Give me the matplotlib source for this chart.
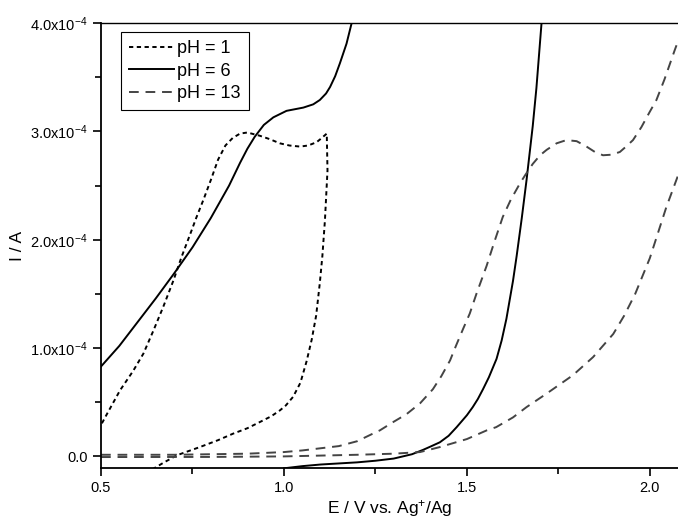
import numpy as np
import matplotlib
matplotlib.use("Agg")
import matplotlib.pyplot as plt
from matplotlib.ticker import FuncFormatter, MultipleLocator

plt.rcParams['font.family'] = ['Liberation Sans', 'DejaVu Sans']
plt.rcParams['mathtext.fontset'] = 'custom'
plt.rcParams['mathtext.rm'] = 'Liberation Sans'
plt.rcParams['mathtext.default'] = 'regular'

# current values in units of 1e-4 A
# pH = 1 (one closed loop: lower part, up the edge, back along the top)
e_ph1 = [0.64, 0.67, 0.707, 0.74, 0.77, 0.82, 0.861, 0.90, 0.934, 0.965, 0.989, 1.005,
         1.025, 1.045, 1.062, 1.076, 1.088, 1.098, 1.105, 1.112, 1.119, 1.117,
         1.10, 1.089, 1.066, 1.044, 1.015, 0.989, 0.96, 0.934, 0.9, 0.88, 0.86,
         0.84, 0.82, 0.8, 0.78, 0.76, 0.748, 0.72, 0.698, 0.67, 0.643, 0.616,
         0.588, 0.552, 0.516, 0.5]
i_ph1 = [-0.12, -0.06, 0.01, 0.05, 0.086, 0.15, 0.21, 0.26, 0.317, 0.37, 0.425, 0.47,
         0.55, 0.68, 0.88, 1.08, 1.3, 1.6, 1.85, 2.18, 2.64, 2.98,
         2.93, 2.90, 2.87, 2.86, 2.87, 2.89, 2.93, 2.96, 2.99, 2.98, 2.94,
         2.87, 2.74, 2.55, 2.37, 2.2, 2.09, 1.84, 1.625, 1.38, 1.16, 0.95,
         0.79, 0.61, 0.39, 0.29]

# pH = 6, two branches
e_ph6_a = [0.5, 0.55, 0.6, 0.65, 0.7, 0.75, 0.8, 0.85, 0.88, 0.9, 0.92, 0.945, 0.971,
           1.007, 1.053, 1.08, 1.098, 1.115, 1.126, 1.14, 1.153, 1.171, 1.185, 1.19]
i_ph6_a = [0.83, 1.02, 1.24, 1.46, 1.69, 1.93, 2.2, 2.5, 2.71, 2.84, 2.95, 3.06, 3.13,
           3.19, 3.22, 3.25, 3.29, 3.35, 3.41, 3.51, 3.63, 3.81, 4.0, 4.05]
e_ph6_b = [1.0, 1.05, 1.1, 1.15, 1.2, 1.25, 1.3, 1.35, 1.38, 1.4, 1.426, 1.45, 1.472,
           1.5, 1.516, 1.53, 1.544, 1.56, 1.581, 1.595, 1.608, 1.626, 1.636, 1.65,
           1.663, 1.68, 1.69, 1.704, 1.71]
i_ph6_b = [-0.11, -0.09, -0.075, -0.065, -0.055, -0.04, -0.02, 0.02, 0.06, 0.09, 0.13,
           0.19, 0.27, 0.38, 0.455, 0.53, 0.62, 0.73, 0.9, 1.07, 1.27, 1.62, 1.85,
           2.2, 2.55, 3.05, 3.4, 4.0, 4.1]

# pH = 13, upper and lower branch
e_ph13_up = [0.5, 0.7, 0.9, 1.0, 1.05, 1.1, 1.15, 1.2, 1.243, 1.262, 1.3, 1.335, 1.372,
             1.407, 1.43, 1.454, 1.47, 1.49, 1.508, 1.526, 1.554, 1.575, 1.598, 1.62,
             1.645, 1.66, 1.68, 1.7, 1.718, 1.745, 1.772, 1.8, 1.827, 1.85, 1.872,
             1.895, 1.918, 1.935, 1.954, 1.977, 1.998, 2.018, 2.04, 2.068, 2.08]
i_ph13_up = [0.015, 0.015, 0.025, 0.04, 0.055, 0.075, 0.095, 0.14, 0.21, 0.24, 0.32,
             0.39, 0.49, 0.62, 0.74, 0.886, 1.02, 1.18, 1.32, 1.5, 1.76, 1.98, 2.21,
             2.37, 2.52, 2.6, 2.70, 2.78, 2.83, 2.89, 2.92, 2.91, 2.86, 2.81, 2.78,
             2.785, 2.81, 2.86, 2.92, 3.04, 3.17, 3.29, 3.48, 3.75, 3.86]
e_ph13_low = [0.5, 0.8, 1.0, 1.2, 1.3, 1.372, 1.426, 1.5, 1.554, 1.58, 1.626, 1.663,
              1.718, 1.79, 1.845, 1.9, 1.93, 1.96, 2.0, 2.045, 2.08]
i_ph13_low = [-0.006, -0.005, 0.0, 0.015, 0.025, 0.04, 0.086, 0.16, 0.24, 0.27, 0.36,
              0.455, 0.58, 0.75, 0.917, 1.13, 1.3, 1.5, 1.83, 2.3, 2.62]

scale = 1e-4

fig = plt.figure(figsize=(6.78, 5.19), dpi=100)
ax = fig.add_axes([0.149, 0.0985, 0.851, 0.857])

gray = '#444444'
ax.plot(e_ph1, np.array(i_ph1) * scale, color='black', lw=1.4,
        linestyle=(0, (2.2, 1.8)), label='pH = 1')
ax.plot(e_ph6_a, np.array(i_ph6_a) * scale, color='black', lw=1.4, label='pH = 6')
ax.plot(e_ph6_b, np.array(i_ph6_b) * scale, color='black', lw=1.4)
ax.plot(e_ph13_up, np.array(i_ph13_up) * scale, color=gray, lw=1.4,
        linestyle=(0, (5, 3.5)), label='pH = 13')
ax.plot(e_ph13_low, np.array(i_ph13_low) * scale, color=gray, lw=1.4,
        linestyle=(0, (5, 3.5)))

ax.set_xlim(0.5, 2.077)
ax.set_ylim(-0.106e-4, 4.0e-4)

ax.xaxis.set_major_locator(MultipleLocator(0.5))
ax.xaxis.set_minor_locator(MultipleLocator(0.25))
ax.yaxis.set_major_locator(MultipleLocator(1e-4))
ax.yaxis.set_minor_locator(MultipleLocator(0.5e-4))


def yfmt(v, pos):
    if abs(v) < 1e-12:
        return '0.0'
    return '%.1fx10$^{-4}$' % (v / 1e-4)


ax.yaxis.set_major_formatter(FuncFormatter(yfmt))
ax.xaxis.set_major_formatter(FuncFormatter(lambda v, p: '%.1f' % v))

ax.tick_params(which='both', direction='out', width=1.2, labelsize=10.5)
ax.tick_params(which='major', length=6)
ax.tick_params(which='minor', length=4)
ax.spines['right'].set_visible(False)
ax.spines['left'].set_linewidth(1.3)
ax.spines['bottom'].set_linewidth(1.3)
ax.spines['top'].set_linewidth(1.0)

ax.set_xlabel('E / V vs. Ag$^{+}$/Ag', fontsize=12.5, labelpad=2)
ax.set_ylabel('I / A', fontsize=12.5, labelpad=4)

leg = ax.legend(loc='upper left', bbox_to_anchor=(0.035, 0.98), fontsize=13,
                fancybox=False, framealpha=1, edgecolor='black',
                handlelength=2.5, handletextpad=0.15, borderpad=0.45,
                labelspacing=0.3, borderaxespad=0)
leg.get_frame().set_linewidth(0.8)

fig.savefig('out.png', dpi=100)
